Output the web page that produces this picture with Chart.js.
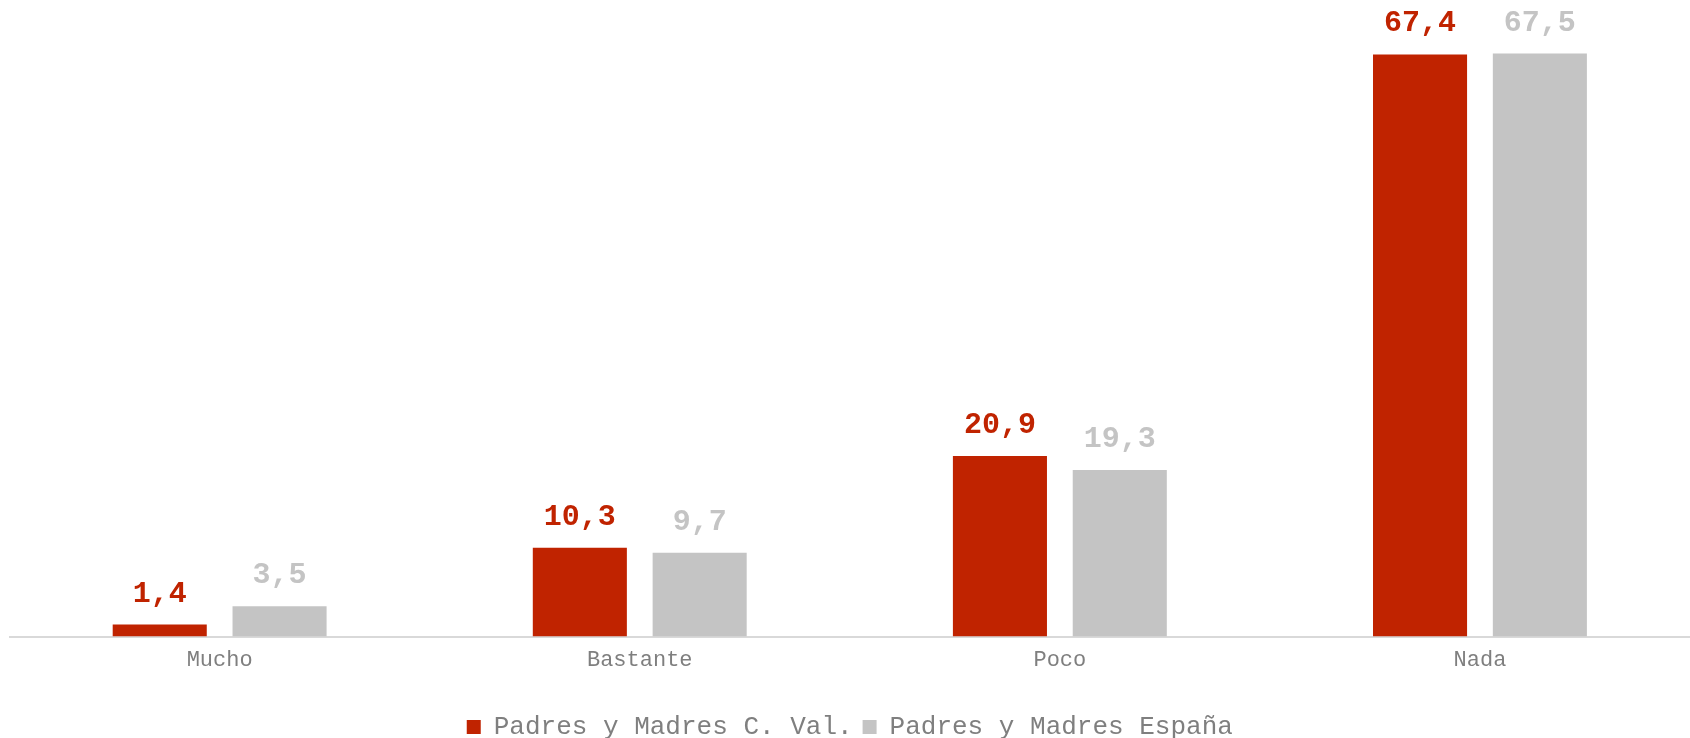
<!DOCTYPE html>
<html lang="es">
<head>
<meta charset="utf-8">
<title>Padres y Madres</title>
<script src="https://cdn.jsdelivr.net/npm/chart.js@4.4.1/dist/chart.umd.min.js"></script>
<style>
  html, body { margin: 0; padding: 0; background: #ffffff; }
  #wrap { position: relative; width: 1690px; height: 738px; }
</style>
</head>
<body>
<div id="wrap"><canvas id="chart" width="1690" height="738"></canvas></div>
<script>
// Data.
const categories = ['Mucho', 'Bastante', 'Poco', 'Nada'];
const seriesNames = ['Padres y Madres C. Val.', 'Padres y Madres España'];
const valuesCVal = [1.4, 10.3, 20.9, 67.4];
const valuesEspana = [3.5, 9.7, 19.3, 67.5];

const RED = '#C02300';
const GREY = '#C4C4C4';
const TEXT_GREY = '#7f7f7f';
const FONT = "'Courier New', 'Liberation Mono', monospace";

// Values are written with a decimal comma, one decimal place.
function fmt(v) {
  return v.toFixed(1).replace('.', ',');
}

// Draws each bar's value above it, in the bar's own colour.
const valueLabels = {
  id: 'valueLabels',
  afterDatasetsDraw(chart) {
    const { ctx } = chart;
    ctx.save();
    ctx.font = 'bold 30px ' + FONT;
    ctx.textAlign = 'center';
    ctx.textBaseline = 'alphabetic';
    chart.data.datasets.forEach((ds, i) => {
      const meta = chart.getDatasetMeta(i);
      ctx.fillStyle = ds.backgroundColor;
      meta.data.forEach((bar, j) => {
        ctx.fillText(fmt(ds.data[j]), bar.x, bar.y - 23);
      });
    });
    ctx.restore();
  },
};

new Chart(document.getElementById('chart'), {
  type: 'bar',
  data: {
    labels: categories,
    datasets: [
      { label: seriesNames[0], data: valuesCVal, backgroundColor: RED },
      { label: seriesNames[1], data: valuesEspana, backgroundColor: GREY },
    ],
  },
  options: {
    responsive: false,
    animation: false,
    devicePixelRatio: 1,
    categoryPercentage: 0.5705,
    barPercentage: 0.785,
    layout: { padding: { left: 9.6, right: 0, top: 0, bottom: -12 } },
    plugins: {
      legend: {
        position: 'bottom',
        labels: {
          boxWidth: 14,
          boxHeight: 14,
          padding: 10,
          color: TEXT_GREY,
          font: { family: FONT, size: 26 },
        },
      },
      tooltip: { enabled: false },
    },
    scales: {
      x: {
        grid: { display: false, drawTicks: false },
        border: { display: true, color: '#d9d9d9', width: 2 },
        ticks: {
          color: TEXT_GREY,
          padding: 10,
          font: { family: FONT, size: 22 },
        },
        // extra room between the category names and the legend
        afterFit(scale) {
          scale.height += 21;
        },
      },
      y: { display: false, min: 0, max: 73.7 },
    },
  },
  plugins: [valueLabels],
});
</script>
</body>
</html>
